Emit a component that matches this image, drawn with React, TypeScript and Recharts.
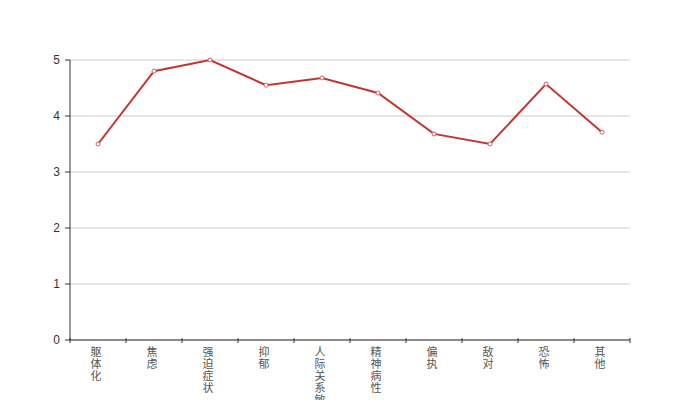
import React from 'react';
import { LineChart, Line, XAxis, YAxis, CartesianGrid } from 'recharts';

const categories = ['躯体化', '焦虑', '强迫症状', '抑郁', '人际关系敏感', '精神病性', '偏执', '敌对', '恐怖', '其他'];
const scores = [3.5, 4.8, 5.0, 4.55, 4.68, 4.41, 3.68, 3.5, 4.57, 3.71];
const yTicks = [0, 1, 2, 3, 4, 5];

const data = categories.map((name, i) => ({ name, score: scores[i] }));

const CHART_W = 700;
const CHART_H = 400;
const PLOT_LEFT = 70;
const PLOT_RIGHT = 70;
const BAND = (CHART_W - PLOT_LEFT - PLOT_RIGHT) / categories.length;

const VerticalTick = (props: any) => {
  const { x, y, payload, index } = props;
  const chars = String(payload.value).split('');
  const left = x - BAND / 2;
  return (
    <g>
      <line x1={left} y1={y - 8} x2={left} y2={y - 3} stroke="#333" />
      {index === categories.length - 1 && (
        <line x1={x + BAND / 2} y1={y - 8} x2={x + BAND / 2} y2={y - 3} stroke="#333" />
      )}
      <text x={x - 2} y={y} textAnchor="middle" fill="#555" fontSize={11}>
        {chars.map((c, i) => (
          <tspan key={i} x={x - 2} dy={i === 0 ? 10 : 12}>
            {c}
          </tspan>
        ))}
      </text>
    </g>
  );
};

export default function App() {
  return (
    <div style={{ position: 'absolute', left: 0, top: 0, fontFamily: '"Noto Sans CJK SC", sans-serif' }}>
      <LineChart
        width={CHART_W}
        height={CHART_H}
        data={data}
        margin={{ top: 60, right: PLOT_RIGHT, bottom: 0, left: 0 }}
      >
        <CartesianGrid vertical={false} stroke="#ccc" />
        <XAxis
          dataKey="name"
          interval={0}
          height={60}
          axisLine={{ stroke: '#333' }}
          tickLine={false}
          tick={<VerticalTick />}
          tickMargin={0}
          padding={{ left: BAND / 2, right: BAND / 2 }}
        />
        <YAxis
          width={PLOT_LEFT}
          domain={[0, 5]}
          ticks={yTicks}
          axisLine={{ stroke: '#333' }}
          tickLine={{ stroke: '#333' }}
          tickSize={5}
          tickMargin={5}
          tick={{ fill: '#333', fontSize: 12, fontFamily: 'sans-serif' }}
        />
        <Line
          type="linear"
          dataKey="score"
          stroke="#c23531"
          strokeWidth={2}
          dot={{ r: 2, stroke: '#d4625f', strokeWidth: 1, fill: '#fff' }}
          activeDot={false}
          isAnimationActive={false}
        />
      </LineChart>
    </div>
  );
}
